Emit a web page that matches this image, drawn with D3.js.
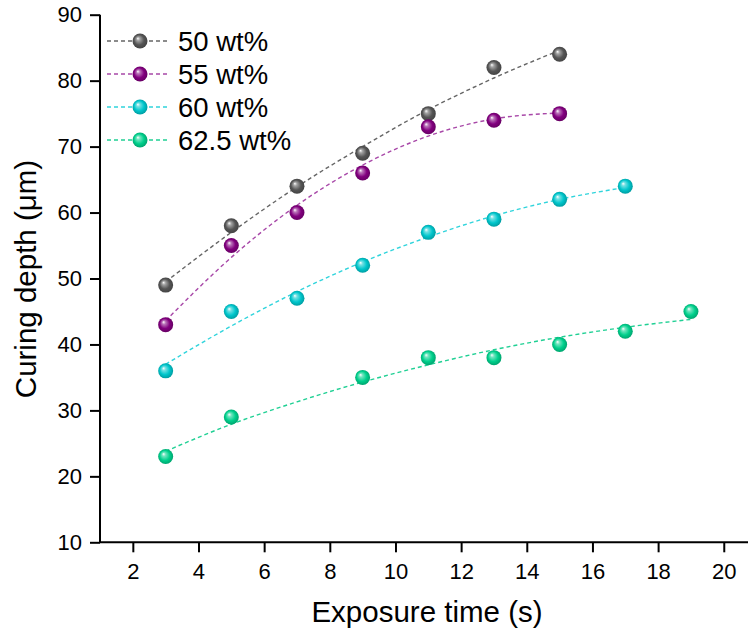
<!DOCTYPE html>
<html>
<head>
<meta charset="utf-8">
<script src="https://cdn.jsdelivr.net/npm/d3@7"></script>
<style>
  body { margin: 0; background: #fff; }
  svg { display: block; font-family: Arial, "Liberation Sans", sans-serif; }
</style>
</head>
<body>
<div id="chart"></div>
<script>
var width = 748;
var height = 631;

// data
var seriesNames = ["50 wt%", "55 wt%", "60 wt%", "62.5 wt%"];
var xs50 = [3, 5, 7, 9, 11, 13, 15];
var ys50 = [49, 58, 64, 69, 75, 82, 84];
var xs55 = [3, 5, 7, 9, 11, 13, 15];
var ys55 = [43, 55, 60, 66, 73, 74, 75];
var xs60 = [3, 5, 7, 9, 11, 13, 15, 17];
var ys60 = [36, 45, 47, 52, 57, 59, 62, 64];
var xs625 = [3, 5, 9, 11, 13, 15, 17, 19];
var ys625 = [23, 29, 35, 38, 38, 40, 42, 45];

// fitted (dashed) curves
var fitX50 = [3, 5, 7, 9, 11, 13, 15];
var fitY50 = [49.5, 57.0, 63.9, 70.0, 75.6, 80.4, 84.6];
var fitX55 = [3, 5, 7, 9, 11, 13, 15];
var fitY55 = [43.6, 53.2, 61.1, 67.2, 71.6, 74.2, 75.1];
var fitX60 = [3, 5, 7, 9, 11, 13, 15, 17];
var fitY60 = [37.0, 42.8, 48.0, 52.5, 56.3, 59.5, 62.0, 63.8];
var fitX625 = [3, 5, 7, 9, 11, 13, 15, 17, 19];
var fitY625 = [23.8, 27.9, 31.3, 34.3, 36.9, 39.2, 41.1, 42.6, 43.8];

var xTicks = [2, 4, 6, 8, 10, 12, 14, 16, 18, 20];
var yTicks = [10, 20, 30, 40, 50, 60, 70, 80, 90];

var markerColors = ["#555555", "#82007f", "#00c6cc", "#00d08c"];
var lineColors = ["#666666", "#a848a8", "#30d4dc", "#20d094"];

var series = [
  {name: seriesNames[0], xs: xs50, ys: ys50, fx: fitX50, fy: fitY50},
  {name: seriesNames[1], xs: xs55, ys: ys55, fx: fitX55, fy: fitY55},
  {name: seriesNames[2], xs: xs60, ys: ys60, fx: fitX60, fy: fitY60},
  {name: seriesNames[3], xs: xs625, ys: ys625, fx: fitX625, fy: fitY625}
];

var plotLeft = 100, plotTop = 14.7, plotBottom = 542.3;

var x = d3.scaleLinear().domain([1, 21]).range([plotLeft, plotLeft + 20 * 32.83]);
var y = d3.scaleLinear().domain([10, 90]).range([plotBottom, plotTop]);

var svg = d3.select("#chart").append("svg")
  .attr("width", width)
  .attr("height", height);

// sphere-like gradients for the markers
var defs = svg.append("defs");
markerColors.forEach(function (c, i) {
  var g = defs.append("radialGradient")
    .attr("id", "ball" + i)
    .attr("cx", "50%").attr("cy", "50%").attr("r", "55%")
    .attr("fx", "35%").attr("fy", "32%");
  g.append("stop").attr("offset", "0%").attr("stop-color", "#ffffff");
  g.append("stop").attr("offset", "22%").attr("stop-color", d3.interpolateRgb(c, "#ffffff")(0.45));
  g.append("stop").attr("offset", "60%").attr("stop-color", c);
  g.append("stop").attr("offset", "100%").attr("stop-color", d3.color(c).darker(0.8));
});

// axes
var xAxis = svg.append("g")
  .attr("transform", "translate(0," + plotBottom + ")")
  .call(d3.axisBottom(x).tickValues(xTicks).tickSize(10).tickPadding(6));
var yAxis = svg.append("g")
  .attr("transform", "translate(" + plotLeft + ",0)")
  .call(d3.axisLeft(y).tickValues(yTicks).tickSize(10).tickPadding(8));

[xAxis, yAxis].forEach(function (a) {
  a.attr("font-size", 22).attr("font-family", null);
  a.select(".domain").attr("stroke", "#000").attr("stroke-width", 2);
  a.selectAll(".tick line").attr("stroke", "#000").attr("stroke-width", 2);
  a.selectAll(".tick text").attr("fill", "#000");
});
xAxis.select(".domain").attr("d", "M" + plotLeft + ",0H" + (width + 10));
yAxis.select(".domain").attr("d", "M0," + plotBottom + "V" + plotTop);
xAxis.selectAll(".tick text").attr("dy", "0.92em");

// fit lines
var line = d3.line()
  .x(function (d) { return x(d[0]); })
  .y(function (d) { return y(d[1]); })
  .curve(d3.curveMonotoneX);

series.forEach(function (s, i) {
  svg.append("path")
    .datum(s.fx.map(function (v, k) { return [v, s.fy[k]]; }))
    .attr("d", line)
    .attr("fill", "none")
    .attr("stroke", lineColors[i])
    .attr("stroke-width", 1.4)
    .attr("stroke-dasharray", "4,3");
});

// points
series.forEach(function (s, i) {
  svg.append("g").selectAll("circle")
    .data(s.xs.map(function (v, k) { return [v, s.ys[k]]; }))
    .enter().append("circle")
    .attr("cx", function (d) { return x(d[0]); })
    .attr("cy", function (d) { return y(d[1]); })
    .attr("r", 7.5)
    .attr("fill", "url(#ball" + i + ")");
});

// legend
var legend = svg.append("g");
series.forEach(function (s, i) {
  var ly = 41 + i * 33;
  legend.append("line")
    .attr("x1", 107).attr("x2", 167)
    .attr("y1", ly).attr("y2", ly)
    .attr("stroke", lineColors[i])
    .attr("stroke-width", 1.4)
    .attr("stroke-dasharray", "4,3");
  legend.append("circle")
    .attr("cx", 140).attr("cy", ly).attr("r", 7.5)
    .attr("fill", "url(#ball" + i + ")");
  legend.append("text")
    .attr("x", 178).attr("y", ly + 9.5)
    .style("font-size", "27.5px")
    .attr("fill", "#000")
    .text(s.name);
});

// axis titles
svg.append("text")
  .attr("x", 427).attr("y", 622)
  .attr("text-anchor", "middle")
  .style("font-size", "29.5px")
  .text("Exposure time (s)");

svg.append("text")
  .attr("transform", "translate(36,279)rotate(-90)")
  .attr("text-anchor", "middle")
  .style("font-size", "29.5px")
  .text("Curing depth (\u03bcm)");
</script>
</body>
</html>
